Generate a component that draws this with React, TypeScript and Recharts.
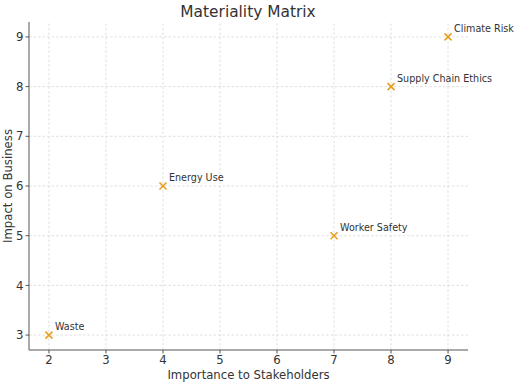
import { ScatterChart, Scatter, XAxis, YAxis, ReferenceLine, Label } from "recharts";

const issues = ["Waste", "Energy Use", "Worker Safety", "Supply Chain Ethics", "Climate Risk"];
const importance = [2, 4, 7, 8, 9];
const impact = [3, 6, 5, 8, 9];
const xTicks = [2, 3, 4, 5, 6, 7, 8, 9];
const yTicks = [3, 4, 5, 6, 7, 8, 9];

const data = issues.map((name, i) => ({ name, x: importance[i], y: impact[i] }));

const FONT = "DejaVu Sans, sans-serif";
const TEXT = "#333";
const GRID = { stroke: "#d8d8d8", strokeDasharray: "2.5 2", strokeWidth: 0.8 };

function Cross(props: any) {
  const { cx, cy, payload } = props;
  const s = 3.5;
  return (
    <g>
      <path
        d={`M${cx - s},${cy - s}L${cx + s},${cy + s}M${cx - s},${cy + s}L${cx + s},${cy - s}`}
        stroke="#e8a020"
        strokeWidth={1.6}
      />
      <text x={cx + 6} y={cy - 5} fontSize={9.6} fill={TEXT} fontFamily={FONT}>
        {payload.name}
      </text>
    </g>
  );
}

export default function App() {
  return (
    <div style={{ position: "absolute", left: 0, top: 0, width: 518, height: 385, background: "#fff" }}>
      <ScatterChart width={518} height={385} margin={{ top: 22, right: 50, bottom: 0, left: 0 }}>
        <text x={248} y={17} textAnchor="middle" fontSize={15.4} fill={TEXT} fontFamily={FONT}>
          Materiality Matrix
        </text>
        <text
          x={12}
          y={186}
          transform="rotate(-90 12 186)"
          textAnchor="middle"
          fontSize={11.7}
          fill={TEXT}
          fontFamily={FONT}
        >
          Impact on Business
        </text>
        <XAxis
          type="number"
          dataKey="x"
          domain={[1.65, 9.35]}
          ticks={xTicks}
          height={35}
          stroke="#555"
          tickSize={3.5}
          tick={{ fontSize: 11.7, fill: TEXT, fontFamily: FONT }}
        >
          <Label value="Importance to Stakeholders" position="insideBottom" offset={6} fontSize={11.7} fill={TEXT} fontFamily={FONT} />
        </XAxis>
        <YAxis
          type="number"
          dataKey="y"
          domain={[2.7, 9.3]}
          ticks={yTicks}
          width={29}
          stroke="#555"
          tickSize={3.5}
          tick={{ fontSize: 11.7, fill: TEXT, fontFamily: FONT }}
        />
        {xTicks.map((t) => (
          <ReferenceLine key={`x${t}`} x={t} {...GRID} />
        ))}
        {yTicks.map((t) => (
          <ReferenceLine key={`y${t}`} y={t} {...GRID} />
        ))}
        <Scatter data={data} shape={<Cross />} isAnimationActive={false} />
      </ScatterChart>
    </div>
  );
}
